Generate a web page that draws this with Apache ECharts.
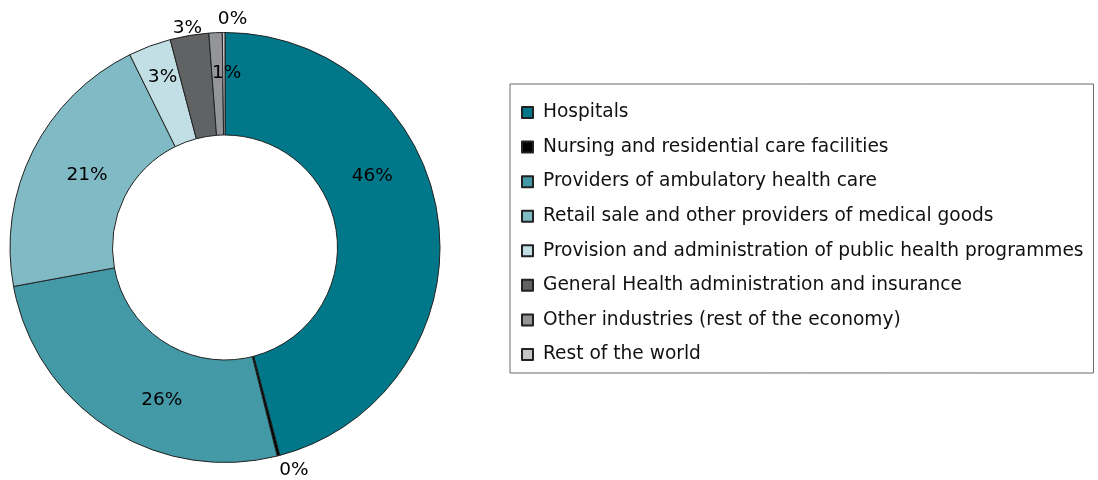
<!DOCTYPE html>
<html>
<head>
<meta charset="utf-8">
<style>
  html, body { margin: 0; padding: 0; background: #fff; }
  #chart { width: 1098px; height: 480px; }
</style>
<script src="https://cdn.jsdelivr.net/npm/echarts@6/dist/echarts.min.js"></script>
</head>
<body>
<div id="chart"></div>
<script>
// Health expenditure by provider, share of total (%)
const categories = [
  'Hospitals',
  'Nursing and residential care facilities',
  'Providers of ambulatory health care',
  'Retail sale and other providers of medical goods',
  'Provision and administration of public health programmes',
  'General Health administration and insurance',
  'Other industries (rest of the economy)',
  'Rest of the world'
];
const shares = [45.9, 0.2, 26.0, 20.6, 3.2, 2.9, 1.0, 0.2];

// Slice fills, in category order
const palette = ['#00788A', '#000000', '#4499A7', '#80BAC5', '#C1DFE5', '#606264', '#939598', '#C6C6C6'];

// Slices whose labels sit outside the ring
const outsideLabel = [false, true, false, false, false, true, false, true];
// Small nudges for label placement
const labelNudge = [[-18, -50], [11, -3], [27, 12], [11, 2], [-4, -14], [1, 10], [9, -8], [9, 5]];

const fmt = p => Math.round(shares[p.dataIndex]) + '%';
const fontFamily = 'DejaVu Sans, Liberation Sans, Arial, sans-serif';
const labelFont = { fontFamily, fontSize: 18.5, color: '#000' };

const ringData = categories.map((name, i) => ({
  name,
  value: shares[i],
  itemStyle: { color: palette[i] },
  label: { show: !outsideLabel[i], offset: labelNudge[i] }
}));

const outerLabelData = categories.map((name, i) => ({
  name,
  value: shares[i],
  label: { show: outsideLabel[i], offset: labelNudge[i] }
}));

const chart = echarts.init(document.getElementById('chart'), null, { renderer: 'canvas' });
chart.setOption({
  animation: false,
  backgroundColor: '#ffffff',
  legend: {
    orient: 'vertical',
    left: 510,
    top: 84,
    data: categories,
    padding: [19, 10, 9, 11],
    itemGap: 15.57,
    itemWidth: 11,
    itemHeight: 11,
    borderColor: '#6a6a6a',
    borderWidth: 1,
    selectedMode: false,
    icon: 'rect',
    textStyle: {
      fontFamily,
      fontSize: 18.6,
      color: '#111',
      lineHeight: 18,
      padding: [0, 0, 0, 5]
    }
  },
  series: [
    {
      type: 'pie',
      center: [225, 247.5],
      radius: [112.5, 215],
      startAngle: 90,
      clockwise: true,
      avoidLabelOverlap: false,
      silent: true,
      itemStyle: { borderColor: '#222', borderWidth: 1 },
      label: Object.assign({ position: 'inside', formatter: fmt }, labelFont),
      labelLine: { show: false },
      emphasis: { disabled: true },
      data: ringData
    },
    {
      // transparent ring carrying the labels placed just outside the donut
      type: 'pie',
      center: [225, 247.5],
      radius: [215, 245],
      startAngle: 90,
      clockwise: true,
      avoidLabelOverlap: false,
      silent: true,
      itemStyle: { color: 'rgba(0,0,0,0)', borderWidth: 0 },
      label: Object.assign({ position: 'inside', formatter: fmt }, labelFont),
      labelLine: { show: false },
      emphasis: { disabled: true },
      data: outerLabelData
    }
  ]
});
</script>
</body>
</html>
